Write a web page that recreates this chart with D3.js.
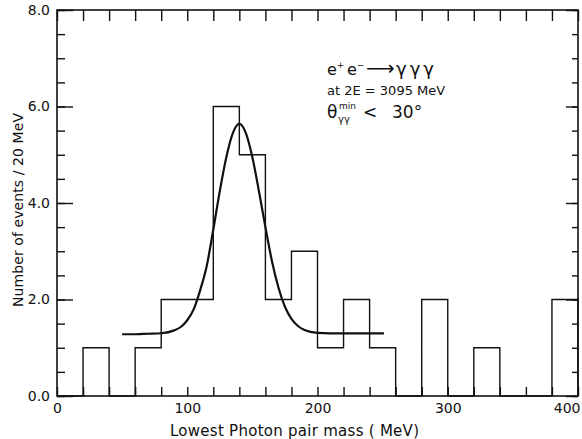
<html lang="en">
	<head>
		<meta charset="utf-8">
		<title>Lowest photon pair mass</title>
		<script src="https://d3js.org/d3.v7.min.js"></script>
		<style type="text/css">
			body {
				margin: 0;
				background-color: white;
			}
			text {
				font-family: "DejaVu Sans", sans-serif;
				fill: #111;
			}
		</style>
	</head>
	<body>
		<script type="text/javascript">

			//Histogram bins (lower edge, MeV) and events per 20 MeV
			var binStarts = [0, 20, 40, 60, 80, 100, 120, 140, 160, 180, 200, 220, 240, 260, 280, 300, 320, 340, 360, 380];
			var binCounts = [0, 1, 0, 1, 2, 2, 6, 5, 2, 3, 1, 2, 1, 0, 2, 0, 1, 0, 0, 2];
			var binWidth = 20;

			//Fitted curve
			var fitMass = [50, 60, 70, 80, 90, 95, 100, 105, 110, 115, 120, 125, 130, 135, 140, 145, 150, 155, 160, 165, 170, 175, 180, 185, 190, 200, 210, 230, 251];
			var fitValue = [1.28, 1.28, 1.29, 1.3, 1.36, 1.43, 1.57, 1.8, 2.2, 2.7, 3.45, 4.25, 4.95, 5.45, 5.64, 5.45, 4.95, 4.25, 3.5, 2.8, 2.25, 1.85, 1.6, 1.45, 1.37, 1.31, 1.3, 1.3, 1.3];

			//Tick labels
			var xTickLabels = [0, 100, 200, 300, 400];
			var yTickLabels = [0, 2, 4, 6, 8];

			//Width and height
			var w = 582;
			var h = 439;

			var svg = d3.select("body")
						.append("svg")
						.attr("width", w)
						.attr("height", h);

			//Scales
			var xScale = d3.scaleLinear()
					.domain([0, 400])
					.range([57, 578]);

			var yScale = d3.scaleLinear()
					.domain([0, 8])
					.range([396, 10]);

			var xMinor = d3.range(0, 401, 20);
			var yMinor = d3.range(0, 8.01, 0.5);

			//Left axis: major ticks with labels, minor ticks inward
			svg.append("g")
				.attr("transform", "translate(" + xScale(0) + ",0)")
				.call(d3.axisLeft(yScale).tickValues(yMinor).tickSize(-8).tickFormat(""));
			svg.append("g")
				.attr("class", "yaxis")
				.attr("transform", "translate(" + xScale(0) + ",0)")
				.call(d3.axisLeft(yScale).tickValues(yTickLabels).tickSize(-16).tickPadding(7).tickFormat(d3.format(".1f")));

			//Right axis
			svg.append("g")
				.attr("transform", "translate(" + xScale(400) + ",0)")
				.call(d3.axisRight(yScale).tickValues(yMinor).tickSize(-6).tickFormat(""));
			svg.append("g")
				.attr("transform", "translate(" + xScale(400) + ",0)")
				.call(d3.axisRight(yScale).tickValues(yTickLabels).tickSize(-12).tickFormat(""));

			//Bottom axis
			svg.append("g")
				.attr("transform", "translate(0," + yScale(0) + ")")
				.call(d3.axisBottom(xScale).tickValues(xMinor).tickSize(-9).tickFormat(""));
			svg.append("g")
				.attr("class", "xaxis")
				.attr("transform", "translate(0," + yScale(0) + ")")
				.call(d3.axisBottom(xScale).tickValues(xTickLabels).tickSize(0).tickPadding(7));

			//Top axis
			svg.append("g")
				.attr("transform", "translate(0," + yScale(8) + ")")
				.call(d3.axisTop(xScale).tickValues(xMinor).tickSize(-11).tickFormat(""));

			svg.selectAll(".domain").remove();
			svg.selectAll(".tick line")
				.attr("stroke", "#111")
				.attr("stroke-width", 1.4);
			svg.selectAll(".yaxis text, .xaxis text")
				.attr("font-family", "DejaVu Sans, sans-serif")
				.attr("font-size", "14px")
				.attr("fill", "#111");
			// last label sits against the right edge
			svg.selectAll(".xaxis .tick text")
				.filter(function(d) { return d === 400; })
				.attr("text-anchor", "end")
				.attr("x", 2);

			//Frame
			svg.append("rect")
				.attr("x", xScale(0))
				.attr("y", yScale(8))
				.attr("width", xScale(400) - xScale(0))
				.attr("height", yScale(0) - yScale(8))
				.attr("fill", "none")
				.attr("stroke", "#111")
				.attr("stroke-width", 1.6);

			//Histogram outline
			var histPoints = binStarts.map(function(d, i) { return [d, binCounts[i]]; });
			histPoints.push([binStarts[binStarts.length - 1] + binWidth, binCounts[binCounts.length - 1]]);
			histPoints.push([binStarts[binStarts.length - 1] + binWidth, 0]);
			histPoints.unshift([binStarts[0], 0]);

			var histLine = d3.line()
				.x(function(d) { return xScale(d[0]); })
				.y(function(d) { return yScale(d[1]); })
				.curve(d3.curveStepAfter);

			svg.append("path")
				.attr("d", histLine(histPoints))
				.attr("fill", "none")
				.attr("stroke", "#111")
				.attr("stroke-width", 1.4);

			//Fitted curve
			var fitLine = d3.line()
				.x(function(d, i) { return xScale(fitMass[i]); })
				.y(function(d) { return yScale(d); })
				.curve(d3.curveMonotoneX);

			svg.append("path")
				.attr("d", fitLine(fitValue))
				.attr("fill", "none")
				.attr("stroke", "#111")
				.attr("stroke-width", 2.2);

			//Axis titles
			svg.append("text")
				.attr("x", 170)
				.attr("y", 436)
				.attr("font-size", "15px")
				.attr("textLength", 249)
				.text("Lowest Photon pair mass ( MeV)");

			svg.append("text")
				.attr("transform", "translate(23,210) rotate(-90)")
				.attr("text-anchor", "middle")
				.attr("font-size", "14px")
				.attr("textLength", 194)
				.text("Number of events / 20 MeV");

			//Annotation
			var note = svg.append("g");
			var l1 = note.append("text")
				.attr("x", 327)
				.attr("y", 75)
				.attr("font-size", "16px");
			l1.append("tspan").text("e");
			l1.append("tspan").attr("dy", -7).attr("font-size", "9px").text("+");
			l1.append("tspan").attr("x", 347).attr("dy", 7).text("e");
			l1.append("tspan").attr("dy", -7).attr("font-size", "9px").text("\u2212");
			l1.append("tspan").attr("x", 366).attr("dy", 7).attr("font-size", "20px").text("\u27F6");
			l1.append("tspan").attr("x", 396).attr("font-size", "18px").attr("letter-spacing", "3px").text("\u03B3\u03B3\u03B3");

			note.append("text")
				.attr("x", 327)
				.attr("y", 95)
				.attr("font-size", "13px")
				.text("at  2E = 3095 MeV");

			var l3 = note.append("text")
				.attr("x", 327)
				.attr("y", 118)
				.attr("font-size", "17px");
			l3.append("tspan").text("\u03B8");
			l3.append("tspan").attr("x", 339).attr("dy", -9).attr("font-size", "9px").text("min");
			l3.append("tspan").attr("x", 338).attr("dy", 14).attr("font-size", "10px").text("\u03B3\u03B3");
			l3.append("tspan").attr("x", 363).attr("dy", -5).text("<");
			l3.append("tspan").attr("x", 392).text("30\u00B0");

		</script>
	</body>
</html>
